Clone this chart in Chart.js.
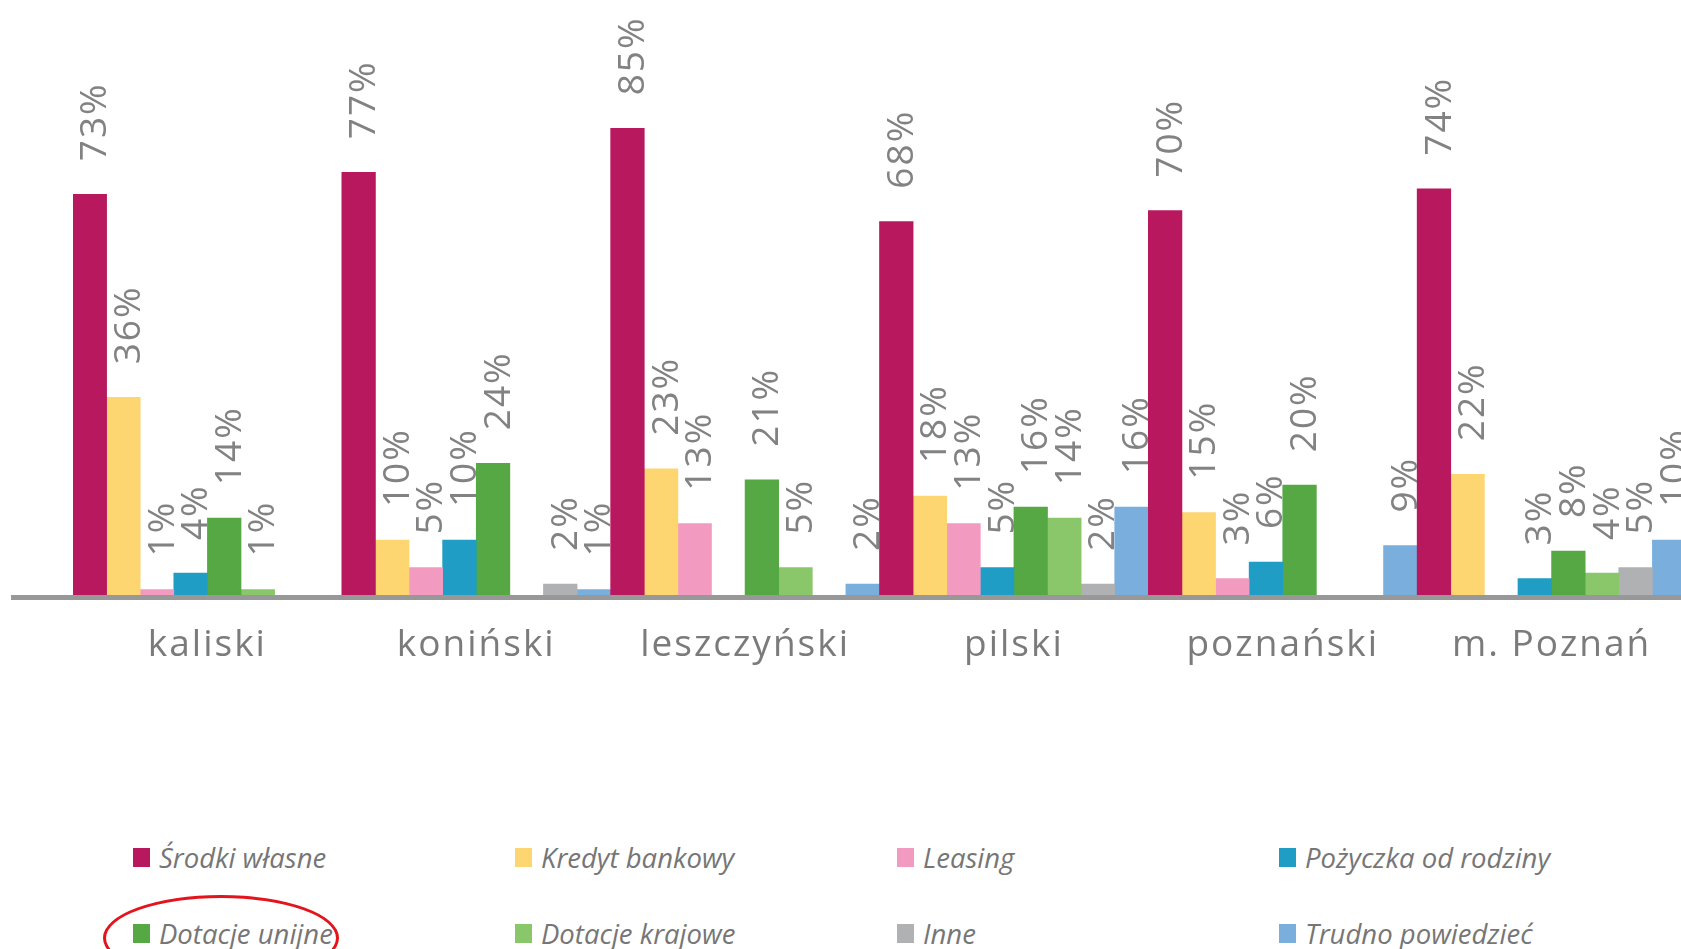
<!DOCTYPE html>
<html>
<head>
<meta charset="utf-8">
<script src="https://cdn.jsdelivr.net/npm/chart.js@4/dist/chart.umd.min.js"></script>
<style>
    body { margin: 0; background: #fff; overflow: hidden; width: 1681px; height: 949px; position: relative; }
    #wrap { position: absolute; left: 0; top: 0; width: 1700px; height: 700px; }
    #legend {
        position: absolute; left: 133px; top: 838px;
        display: grid; grid-template-columns: repeat(4, 382px); row-gap: 38px;
    }
    #legend .item {
        display: flex; align-items: center; height: 38px;
        font: italic 27.5px "Open Sans", "Noto Sans", sans-serif; color: #767676;
        white-space: nowrap;
    }
    #legend .box { display: inline-block; width: 17px; height: 19px; margin-right: 9px; }
    #mark {
        position: absolute; left: 103px; top: 895px; width: 236px; height: 86px;
        border: 3px solid #e3141b; border-radius: 50%; box-sizing: border-box;
    }
</style>
</head>
<body>
<div id="wrap"><canvas id="chart"></canvas></div>
<div id="legend"></div>
<div id="mark"></div>
<script>
// categories (regions)
const categories = ['kaliski', 'koniński', 'leszczyński', 'pilski', 'poznański', 'm. Poznań'];

// series values in %, null = no answer in the region
const srodkiWlasne = [73, 77, 85, 68, 70, 74];
const kredytBankowy = [36, 10, 23, 18, 15, 22];
const leasing = [1, 5, 13, 13, 3, null];
const pozyczkaOdRodziny = [4, 10, null, 5, 6, 3];
const dotacjeUnijne = [14, 24, 21, 16, 20, 8];
const dotacjeKrajowe = [1, null, 5, 14, null, 4];
const inne = [null, 2, null, 2, null, 5];
const trudnoPowiedziec = [null, 1, 2, 16, 9, 10];

const seriesNames = ['Środki własne', 'Kredyt bankowy', 'Leasing', 'Pożyczka od rodziny',
    'Dotacje unijne', 'Dotacje krajowe', 'Inne', 'Trudno powiedzieć'];
const seriesValues = [srodkiWlasne, kredytBankowy, leasing, pozyczkaOdRodziny,
    dotacjeUnijne, dotacjeKrajowe, inne, trudnoPowiedziec];
const seriesColors = ['#b8185e', '#fdd672', '#f39ac1', '#1f9dc4',
    '#55a844', '#8ac76a', '#b0b1b3', '#7aaedd'];

// long grey axis line under the bars
const baseLine = {
    id: 'baseLine',
    afterDatasetsDraw(chart) {
        const ctx = chart.ctx;
        const y = chart.chartArea.bottom + 2.5;
        ctx.save();
        ctx.strokeStyle = '#989898';
        ctx.lineWidth = 5;
        ctx.beginPath();
        ctx.moveTo(11, y);
        ctx.lineTo(chart.width, y);
        ctx.stroke();
        ctx.restore();
    }
};

// rotated value labels above every bar
const barLabels = {
    id: 'barLabels',
    afterDatasetsDraw(chart) {
        const ctx = chart.ctx;
        ctx.save();
        ctx.font = '37px "Open Sans", sans-serif';
        ctx.fillStyle = '#828282';
        ctx.letterSpacing = '2px';
        ctx.textAlign = 'left';
        ctx.textBaseline = 'middle';
        chart.data.datasets.forEach((ds, i) => {
            chart.getDatasetMeta(i).data.forEach((bar, j) => {
                const v = ds.data[j];
                if (v == null) return;
                ctx.save();
                ctx.translate(bar.x + 6, bar.y - 33);
                ctx.rotate(-Math.PI / 2);
                ctx.fillText(v + '%', 0, 0);
                ctx.restore();
            });
        });
        ctx.restore();
    }
};

// spacing for the category names
const tickSpacing = {
    id: 'tickSpacing',
    beforeDraw(chart) { chart.ctx.letterSpacing = '2px'; },
    afterDatasetsDraw(chart) { chart.ctx.letterSpacing = '0px'; }
};

const chart = new Chart('chart', {
    type: 'bar',
    data: {
        labels: categories,
        datasets: seriesNames.map((name, i) => ({
            label: name,
            data: seriesValues[i],
            backgroundColor: seriesColors[i],
            barPercentage: 1,
            categoryPercentage: 1
        }))
    },
    options: {
        animation: false,
        responsive: true,
        maintainAspectRatio: false,
        layout: { padding: { left: 73, right: 14, top: 46, bottom: 25 } },
        plugins: { legend: { display: false }, tooltip: { enabled: false } },
        scales: {
            x: {
                grid: { display: false, drawTicks: false },
                border: { display: false },
                ticks: { color: '#7b7b7b', padding: 28, font: { family: 'Open Sans', size: 37 } },
                afterFit: (scale) => { scale.height = 80; }
            },
            y: { display: false, min: 0, max: 100 }
        }
    },
    plugins: [tickSpacing, baseLine, barLabels]
});

// legend in four columns
const legendBox = document.getElementById('legend');
chart.data.datasets.forEach(ds => {
    const item = document.createElement('div');
    item.className = 'item';
    item.innerHTML = `<span class="box" style="background:${ds.backgroundColor}"></span>${ds.label}`;
    legendBox.append(item);
});
</script>
</body>
</html>
